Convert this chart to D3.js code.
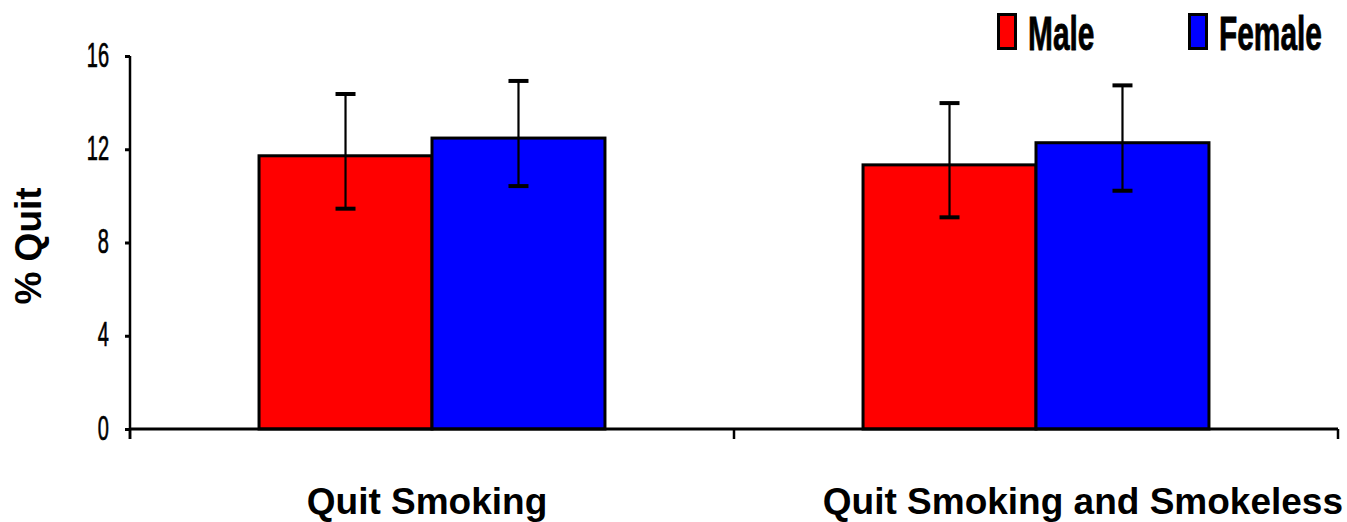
<!DOCTYPE html>
<html><head><meta charset="utf-8">
<script src="https://cdn.jsdelivr.net/npm/d3@7"></script>
<style>html,body{margin:0;padding:0;background:#fff;overflow:hidden}</style>
</head><body>
<svg id="chart" width="1347" height="522"></svg>
<script>
const categories = ["Quit Smoking", "Quit Smoking and Smokeless"];
const series = ["Male", "Female"];
const colors = ["#FF0000", "#0000FF"];
const maleValues = [11.72, 11.33];
const femaleValues = [12.48, 12.28];
const maleHigh = [14.37, 13.98];
const maleLow = [9.45, 9.08];
const femaleHigh = [14.93, 14.74];
const femaleLow = [10.42, 10.22];
const yTicks = [0, 4, 8, 12, 16];
const yTitle = "% Quit";

const W = 1347, H = 522;
const svg = d3.select("#chart");
const font = "'Liberation Sans', Arial, sans-serif";

const x0 = d3.scaleBand().domain(categories).range([130, 1338]).paddingInner(0).paddingOuter(0);
const x1 = d3.scaleBand().domain(series).range([0, x0.bandwidth()]).paddingInner(0).paddingOuter(0.746);
const y = d3.scaleLinear().domain([0, 16]).range([429, 56]);

const data = [];
categories.forEach((c, i) => {
  data.push({cat: c, s: "Male", v: maleValues[i], hi: maleHigh[i], lo: maleLow[i], color: colors[0]});
  data.push({cat: c, s: "Female", v: femaleValues[i], hi: femaleHigh[i], lo: femaleLow[i], color: colors[1]});
});

// bars
svg.append("g").selectAll("rect").data(data).join("rect")
  .attr("x", d => x0(d.cat) + x1(d.s))
  .attr("y", d => y(d.v))
  .attr("width", x1.bandwidth())
  .attr("height", d => y(0) - y(d.v))
  .attr("fill", d => d.color)
  .attr("stroke", "#000").attr("stroke-width", 3);

// error bars
const eg = svg.append("g").attr("stroke", "#000");
data.forEach(d => {
  const cx = x0(d.cat) + x1(d.s) + x1.bandwidth() / 2;
  eg.append("line").attr("x1", cx).attr("x2", cx).attr("y1", y(d.hi)).attr("y2", y(d.lo)).attr("stroke-width", 2.2);
  [d.hi, d.lo].forEach(v => {
    eg.append("line").attr("x1", cx - 10).attr("x2", cx + 10).attr("y1", y(v)).attr("y2", y(v)).attr("stroke-width", 4);
  });
});

// y axis
const yAxis = d3.axisLeft(y).tickValues(yTicks).tickSize(5).tickSizeOuter(0).tickFormat(d3.format("d"));
const gy = svg.append("g").attr("transform", "translate(130,0)").call(yAxis);
gy.select(".domain").attr("stroke", "#000").attr("stroke-width", 2.5).attr("d", `M0,${y(16)}V${y(0) + 10}`);
gy.selectAll(".tick line").attr("stroke", "#000").attr("stroke-width", 3);
gy.selectAll(".tick text").each(function(d) {
  const t = d3.select(this);
  t.attr("x", null).attr("dy", null)
   .attr("font-family", font).attr("font-size", 25).attr("fill", "#000")
   .attr("stroke", "#000").attr("stroke-width", 0.5)
   .attr("text-anchor", "end")
   .attr("transform", `translate(-21,10) scale(0.8,1.38)`);
});

// x axis
const xAxis = d3.axisBottom(x0).tickSize(0).tickFormat("");
const gx = svg.append("g").attr("transform", `translate(0,${y(0)})`).call(xAxis);
gx.select(".domain").attr("stroke", "#000").attr("stroke-width", 3).attr("d", "M130,0H1338");
const xTickPos = [130].concat(categories.map(c => x0(c) + x0.bandwidth()));
svg.append("g").selectAll("line").data(xTickPos).join("line")
  .attr("x1", d => d).attr("x2", d => d).attr("y1", y(0)).attr("y2", y(0) + 10)
  .attr("stroke", "#000").attr("stroke-width", 2.5);

// category labels: first centred under its group, last pushed to the right edge
const nCat = categories.length;
svg.append("g").selectAll("text").data(categories).join("text")
  .attr("font-family", font).attr("font-weight", "bold").attr("font-size", 37)
  .attr("fill", "#000").attr("y", 514)
  .attr("text-anchor", (d, i) => i === nCat - 1 ? "end" : "middle")
  .attr("x", (d, i) => i === nCat - 1 ? W - 4 : x0(d) + x0.bandwidth() / 2 - 5)
  .text(d => d);

// y title
svg.append("text").attr("font-family", font).attr("font-weight", "bold").attr("font-size", 37)
  .attr("text-anchor", "middle").attr("fill", "#000")
  .attr("transform", "translate(41,246) rotate(-90)").text(yTitle);

// legend
const legendX = [997, 1188];
const lg = svg.append("g");
series.forEach((s, i) => {
  lg.append("rect").attr("x", legendX[i] + 1.5).attr("y", 14.5).attr("width", 17).attr("height", 34)
    .attr("fill", colors[i]).attr("stroke", "#000").attr("stroke-width", 3);
  lg.append("text").attr("font-family", font).attr("font-weight", "bold").attr("font-size", 36)
    .attr("fill", "#000").attr("stroke", "#000").attr("stroke-width", 0.6)
    .attr("transform", `translate(${legendX[i] + 31},50) scale(0.83,1.36)`).text(s);
});
</script>
</body></html>
